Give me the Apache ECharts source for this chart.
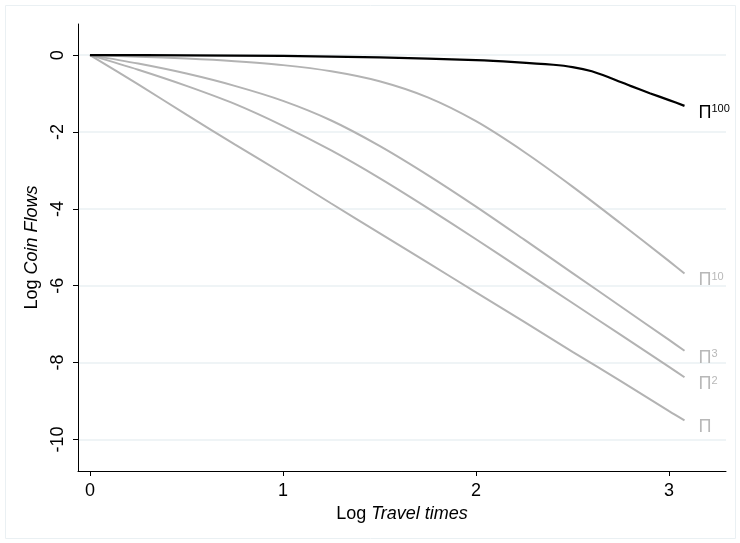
<!DOCTYPE html>
<html>
<head>
<meta charset="utf-8">
<title>Log Coin Flows</title>
<script src="https://cdn.jsdelivr.net/npm/echarts@6/dist/echarts.min.js"></script>
<style>
  html, body { margin: 0; padding: 0; background: #fff; }
  #main { width: 740px; height: 543px; }
</style>
</head>
<body>
<div id="main"></div>
<script>
// log travel times (x) for the grey curves
var logTravel = [0, 0.25, 0.5, 0.75, 1, 1.25, 1.5, 1.75, 2, 2.25, 2.5, 2.75, 3, 3.08];
// the black curve bends late, so it gets more points near the end
var logTravelTop = [0, 0.5, 1, 1.5, 2, 2.2, 2.4, 2.5, 2.6, 2.7, 2.8, 2.9, 3, 3.08];

// log coin flows
var pi1   = [0, -0.76, -1.55, -2.32, -3.08, -3.86, -4.63, -5.40, -6.17, -6.94, -7.72, -8.48, -9.26, -9.50];
var pi2   = [0, -0.38, -0.80, -1.27, -1.84, -2.48, -3.20, -3.98, -4.79, -5.62, -6.45, -7.28, -8.11, -8.38];
var pi3   = [0, -0.22, -0.48, -0.80, -1.19, -1.70, -2.36, -3.12, -3.94, -4.80, -5.67, -6.54, -7.41, -7.69];
var pi10  = [0, -0.04, -0.09, -0.16, -0.26, -0.42, -0.68, -1.10, -1.72, -2.52, -3.42, -4.38, -5.36, -5.68];
var pi100 = [0, -0.005, -0.02, -0.06, -0.13, -0.18, -0.25, -0.31, -0.42, -0.60, -0.80, -0.99, -1.17, -1.32];

var xTicks = [0, 1, 2, 3];
var yTicks = [-10, -8, -6, -4, -2, 0];

function pairs(xs, ys) {
  return xs.map(function (x, i) { return [x, ys[i]]; });
}

var grey = '#b3b3b3';
var font = 'Liberation Sans';

function curve(name, xs, ys, color, sup, width) {
  var txt = color === grey ? '#b8b8b8' : '#000';
  return {
    name: name,
    type: 'line',
    data: pairs(xs, ys),
    smooth: 0.3,
    showSymbol: false,
    lineStyle: { color: color, width: width },
    itemStyle: { color: color },
    z: color === grey ? 2 : 3,
    endLabel: {
      show: true,
      offset: [6, 7],
      formatter: '{b|Π}' + (sup ? '{s|' + sup + '}' : ''),
      rich: {
        b: { fontSize: 18, color: txt, fontFamily: font },
        s: { fontSize: 11, color: txt, fontFamily: font, verticalAlign: 'top' }
      }
    }
  };
}

var myChart = echarts.init(document.getElementById('main'));
var option = {
  backgroundColor: '#fff',
  animation: false,
  graphic: [
    {
      type: 'rect',
      shape: { x: 5.5, y: 5.5, width: 730, height: 533 },
      style: { fill: 'none', stroke: '#eaf0f3', lineWidth: 1 },
      silent: true
    }
  ],
  grid: {
    left: 78,
    right: 14,
    top: 24,
    bottom: 72
  },
  xAxis: {
    type: 'value',
    min: -0.062,
    max: 3.295,
    name: '{n|Log }{i|Travel times}',
    nameLocation: 'middle',
    nameGap: 33,
    nameTextStyle: {
      rich: {
        n: { fontSize: 18, color: '#000', fontFamily: font },
        i: { fontSize: 18, color: '#000', fontFamily: font, fontStyle: 'italic' }
      }
    },
    axisLine: { onZero: false, lineStyle: { color: '#000', width: 1 } },
    axisTick: { length: 5, lineStyle: { color: '#000' }, customValues: xTicks },
    axisLabel: { customValues: xTicks, color: '#000', fontSize: 18, fontFamily: font, margin: 11 },
    splitLine: { show: false }
  },
  yAxis: {
    type: 'value',
    min: -10.82,
    max: 0.81,
    name: '{n|Log }{i|Coin Flows}',
    nameLocation: 'middle',
    nameGap: 33,
    nameTextStyle: {
      rich: {
        n: { fontSize: 18, color: '#000', fontFamily: font },
        i: { fontSize: 18, color: '#000', fontFamily: font, fontStyle: 'italic' }
      }
    },
    axisLine: { show: true, onZero: false, lineStyle: { color: '#000', width: 1 } },
    axisTick: { show: true, length: 5, lineStyle: { color: '#000' }, customValues: yTicks },
    axisLabel: { customValues: yTicks, rotate: 90, color: '#000', fontSize: 18, fontFamily: font, margin: 11 },
    splitLine: { show: true, lineStyle: { color: '#eaf0f3', width: 1.5 } }
  },
  series: [
    curve('Π', logTravel, pi1, grey, '', 2),
    curve('Π2', logTravel, pi2, grey, '2', 2),
    curve('Π3', logTravel, pi3, grey, '3', 2),
    curve('Π10', logTravel, pi10, grey, '10', 2),
    curve('Π100', logTravelTop, pi100, '#000', '100', 2.2)
  ]
};

myChart.setOption(option);
</script>
</body>
</html>
